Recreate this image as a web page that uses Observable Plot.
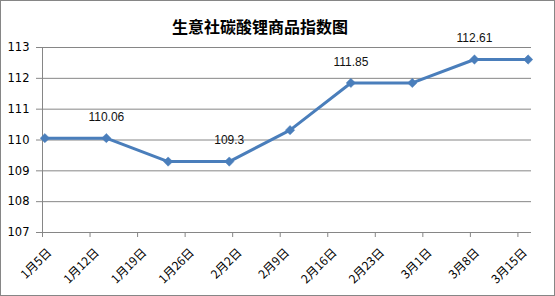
<!DOCTYPE html>
<html>
<head>
<meta charset="utf-8">
<script src="https://cdn.jsdelivr.net/npm/d3@7"></script>
<script src="https://cdn.jsdelivr.net/npm/@observablehq/plot@0.6"></script>
<style>
  html, body { margin: 0; padding: 0; background: #fff; }
  #wrap { position: relative; width: 555px; height: 296px; overflow: hidden; }
  #border { position: absolute; left: 0; top: 0; width: 555px; height: 296px; box-sizing: border-box; border: 1px solid #868686; pointer-events: none; }
  svg { display: block; }
</style>
</head>
<body>
<div id="wrap"><div id="border"></div></div>
<script>
// Chart title
const title = "生意社碳酸锂商品指数图";
// X-axis tick labels and their day offsets from 1月5日
const tickLabels = ["1月5日","1月12日","1月19日","1月26日","2月2日","2月9日","2月16日","2月23日","3月1日","3月8日","3月15日"];
const tickDays = [0, 7, 14, 21, 28, 35, 42, 49, 56, 63, 70];
// Data points: day offset, index value, and shown label
const pointDays = [0.35, 9.4, 18.5, 27.5, 36.45, 45.4, 54.45, 63.6, 71.5];
const values = [110.06, 110.06, 109.3, 109.3, 110.32, 111.85, 111.85, 112.61, 112.61];
const pointLabels = ["", "110.06", "", "109.3", "", "111.85", "", "112.61", ""];
// Y-axis ticks
const yTicks = [107, 108, 109, 110, 111, 112, 113];

const data = pointDays.map((d, i) => ({day: d, value: values[i], label: pointLabels[i]}));
const labelData = data.filter(d => d.label !== "");

const blue = "#4a7ebb";
const grid = "#868686";

const chart = Plot.plot({
  width: 555,
  height: 296,
  marginLeft: 42,
  marginRight: 24,
  marginTop: 47,
  marginBottom: 64,
  style: {fontFamily: "'Liberation Sans', Arial, sans-serif", fontSize: "12px", color: "#000", background: "#fff", overflow: "visible"},
  x: {type: "linear", domain: [0, 72], axis: null},
  y: {domain: [107, 113], axis: null},
  marks: [
    Plot.ruleY(yTicks.slice(1), {stroke: grid, strokeWidth: 1, strokeOpacity: 1}),
    Plot.ruleY([107], {stroke: grid, strokeWidth: 1}),
    Plot.ruleX([0], {stroke: grid, strokeWidth: 1}),
    Plot.axisY(yTicks, {
      anchor: "left", label: null, tickSize: 6, tickPadding: 7, stroke: grid, strokeOpacity: 1,
      tickFormat: d => String(d), fill: "#000",
      fontFamily: "'DejaVu Sans', Verdana, sans-serif", fontSize: 11.5
    }),
    Plot.axisX(tickDays, {
      anchor: "bottom", label: null, tickSize: 5, text: null, stroke: grid, strokeOpacity: 1
    }),
    Plot.axisX(tickDays, {
      anchor: "bottom", label: null, tickSize: 0, tickPadding: 16, dx: 7, dy: 2,
      tickRotate: -45, tickFormat: d => tickLabels[tickDays.indexOf(d)],
      fontFamily: "'Noto Sans CJK SC', sans-serif", fontSize: 12, fill: "#000"
    }),
    Plot.line(data, {x: "day", y: "value", stroke: blue, strokeWidth: 3, strokeLinejoin: "round"}),
    Plot.dot(data, {x: "day", y: "value", symbol: "diamond2", r: 4.2, fill: blue, stroke: blue, strokeWidth: 0.5}),
    Plot.text(labelData, {x: "day", y: "value", text: "label", dy: -21, fontSize: 12, fill: "#111"}),
    Plot.text([title], {frameAnchor: "top", dy: -26, dx: -27, fontSize: 16, fontWeight: "bold", fill: "#000", fontFamily: "'Noto Sans CJK SC', sans-serif"})
  ]
});
document.getElementById("wrap").insertBefore(chart, document.getElementById("border"));
</script>
</body>
</html>
